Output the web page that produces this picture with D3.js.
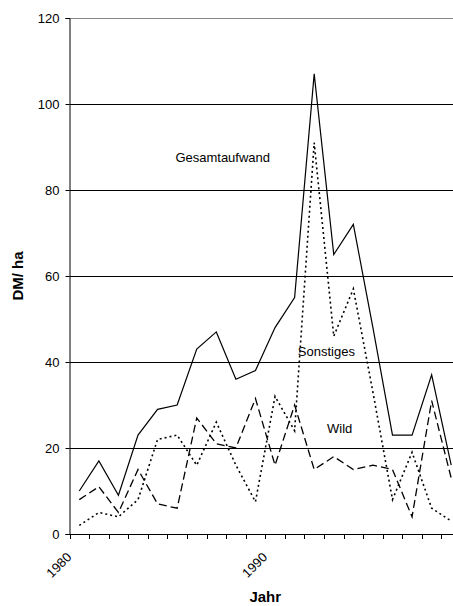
<!DOCTYPE html>
<html>
<head>
<meta charset="utf-8">
<script src="https://cdn.jsdelivr.net/npm/d3@7"></script>
<style>
  body { margin: 0; background: #fff; }
  svg { display: block; }
  text { font-family: Arial, "Liberation Sans", sans-serif; fill: #000; }
  .axis-title { font-weight: bold; font-size: 15px; }
  .tick-label { font-size: 13px; }
  .series-label { font-size: 13px; }
</style>
</head>
<body>
<svg width="453" height="606"></svg>
<script>
"use strict";
// Aufwand je ha, 1980-1999
var years = [1980, 1981, 1982, 1983, 1984, 1985, 1986, 1987, 1988, 1989,
             1990, 1991, 1992, 1993, 1994, 1995, 1996, 1997, 1998, 1999];
var gesamtaufwand = [10, 17, 9, 23, 29, 30, 43, 47, 36, 38, 48, 55, 107, 65, 72, 48, 23, 23, 37, 16];
var wild = [8, 11, 5, 15, 7, 6, 27, 21, 20, 31.5, 16, 30, 15, 18, 15, 16, 15, 4, 31, 13];
var sonstiges = [2, 5, 4, 8, 22, 23, 16, 26, 16, 7.5, 32, 24, 91, 46, 57, 33, 8, 19, 6, 3];
var yTicks = [0, 20, 40, 60, 80, 100, 120];
var xLabels = [1980, 1990];

var svg = d3.select("svg");
var margin = { left: 69.5, right: -8, top: 18, bottom: 72 };
var width = 453 - margin.left - margin.right;
var height = 606 - margin.top - margin.bottom;

var x = d3.scaleBand().domain(years).range([margin.left, margin.left + width]);
var y = d3.scaleLinear().domain([0, 120]).range([margin.top + height, margin.top]);

// gridlines
svg.append("g")
    .attr("class", "grid")
    .selectAll("line")
    .data(yTicks.filter(function (d) { return d > 0; }))
    .enter().append("line")
    .attr("x1", margin.left)
    .attr("x2", margin.left + width)
    .attr("y1", function (d) { return Math.round(y(d)) + 0.5; })
    .attr("y2", function (d) { return Math.round(y(d)) + 0.5; })
    .attr("stroke", function (d) { return d === 120 ? "#888" : "#000"; })
    .attr("stroke-width", 1);

// y axis
var yAxis = svg.append("g")
    .attr("transform", "translate(" + margin.left + ",0)")
    .call(d3.axisLeft(y).tickValues(yTicks).tickSize(4).tickPadding(6));
yAxis.select(".domain").attr("stroke", "#000");
yAxis.selectAll("text").attr("class", "tick-label").attr("font-family", null).attr("font-size", null);

// x axis: ticks on category boundaries
var bounds = years.map(function (d) { return x(d); });
var xAxisG = svg.append("g");
xAxisG.append("line")
    .attr("x1", margin.left)
    .attr("x2", margin.left + width)
    .attr("y1", Math.round(y(0)) + 0.5)
    .attr("y2", Math.round(y(0)) + 0.5)
    .attr("stroke", "#000");
xAxisG.selectAll("line.tick")
    .data(bounds)
    .enter().append("line")
    .attr("class", "tick")
    .attr("x1", function (d) { return Math.round(d) + 0.5; })
    .attr("x2", function (d) { return Math.round(d) + 0.5; })
    .attr("y1", Math.round(y(0)))
    .attr("y2", Math.round(y(0)) + 5)
    .attr("stroke", "#000");
xAxisG.selectAll("text")
    .data(xLabels)
    .enter().append("text")
    .attr("class", "tick-label")
    .attr("text-anchor", "end")
    .attr("transform", function (d) {
        var cx = x(d) + x.bandwidth() / 2;
        return "translate(" + (cx - 7) + "," + 558 + ") rotate(-45)";
    })
    .text(function (d) { return d; });

// lines
var series = [
    { name: "Gesamtaufwand", values: gesamtaufwand, dash: null, w: 1.2 },
    { name: "Wild", values: wild, dash: "8,4", w: 1.3 },
    { name: "Sonstiges", values: sonstiges, dash: "2,3", w: 1.6 }
];
var line = d3.line()
    .x(function (d, i) { return x(years[i]) + x.bandwidth() / 2; })
    .y(function (d) { return y(d); });

svg.append("g")
    .selectAll("path")
    .data(series)
    .enter().append("path")
    .attr("d", function (d) { return line(d.values); })
    .attr("fill", "none")
    .attr("stroke", "#000")
    .attr("stroke-width", function (d) { return d.w; })
    .attr("stroke-dasharray", function (d) { return d.dash; });

// series labels
var labels = [
    { text: "Gesamtaufwand", year: 1985, value: 86.5, dx: 8 },
    { text: "Sonstiges", year: 1991, value: 41.5, dx: 13 },
    { text: "Wild", year: 1993, value: 23.5, dx: 3 }
];
svg.append("g")
    .selectAll("text")
    .data(labels)
    .enter().append("text")
    .attr("class", "series-label")
    .attr("x", function (d) { return x(d.year) + d.dx; })
    .attr("y", function (d) { return y(d.value); })
    .text(function (d) { return d.text; });

// axis titles
svg.append("text")
    .attr("class", "axis-title")
    .attr("text-anchor", "middle")
    .attr("transform", "translate(23," + (margin.top + height / 2) + ") rotate(-90)")
    .text("DM/ ha");
svg.append("text")
    .attr("class", "axis-title")
    .attr("text-anchor", "middle")
    .attr("x", margin.left + width / 2)
    .attr("y", 602)
    .text("Jahr");
</script>
</body>
</html>
